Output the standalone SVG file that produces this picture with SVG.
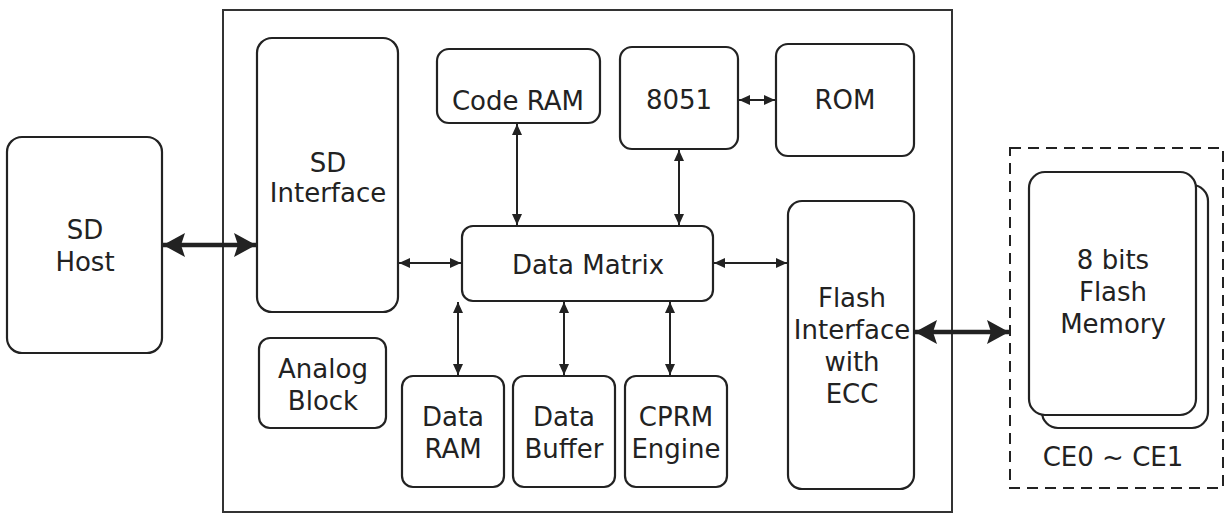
<svg xmlns="http://www.w3.org/2000/svg" width="1225" height="514" viewBox="0 0 1225 514">
<style>
.box{fill:#fff;stroke:#222;stroke-width:2.2}
.t{font-family:"DejaVu Sans",sans-serif;font-size:26px;fill:#222;text-anchor:middle;dominant-baseline:central}
.c{stroke:#222;stroke-width:2;fill:none;marker-start:url(#s);marker-end:url(#s)}
.ct{stroke:#222;stroke-width:4.5;fill:none;marker-start:url(#b);marker-end:url(#b)}
</style>
<defs>
<marker id="s" markerUnits="userSpaceOnUse" viewBox="0 0 11 10" refX="11" refY="5" markerWidth="11" markerHeight="10" orient="auto-start-reverse"><path d="M0,0 L11,5 L0,10 z" fill="#222"/></marker>
<marker id="b" markerUnits="userSpaceOnUse" viewBox="0 0 22 24" refX="22" refY="12" markerWidth="22" markerHeight="24" orient="auto-start-reverse"><path d="M0,0 L22,12 L0,24 L4,12 z" fill="#222"/></marker>
</defs>
<rect x="0" y="0" width="1225" height="514" fill="#fff"/>
<g id="chip"><rect x="223" y="10" width="729" height="502" fill="none" stroke="#333" stroke-width="2"/></g>
<g id="sd-host"><rect class="box" x="7" y="137" width="155" height="216" rx="15"/><text class="t" x="85" y="230">SD</text><text class="t" x="85" y="262">Host</text></g>
<g id="sd-interface"><rect class="box" x="257" y="38" width="141" height="274" rx="15"/><text class="t" x="328" y="163">SD</text><text class="t" x="328" y="193">Interface</text></g>
<g id="code-ram"><rect class="box" x="437" y="49" width="163" height="74" rx="12"/><text class="t" x="518" y="101">Code RAM</text></g>
<g id="cpu-8051"><rect class="box" x="620" y="47" width="118" height="102" rx="12"/><text class="t" x="679" y="100">8051</text></g>
<g id="rom"><rect class="box" x="776" y="44" width="138" height="112" rx="12"/><text class="t" x="845" y="100">ROM</text></g>
<g id="data-matrix"><rect class="box" x="462" y="226" width="251" height="75" rx="11"/><text class="t" x="588" y="265">Data Matrix</text></g>
<g id="analog-block"><rect class="box" x="259" y="338" width="127" height="90" rx="11"/><text class="t" x="323" y="369">Analog</text><text class="t" x="323" y="401">Block</text></g>
<g id="data-ram"><rect class="box" x="402" y="376" width="102" height="111" rx="11"/><text class="t" x="453" y="417">Data</text><text class="t" x="453" y="449">RAM</text></g>
<g id="data-buffer"><rect class="box" x="513" y="376" width="102" height="111" rx="11"/><text class="t" x="564" y="417">Data</text><text class="t" x="564" y="449">Buffer</text></g>
<g id="cprm-engine"><rect class="box" x="625" y="376" width="102" height="111" rx="11"/><text class="t" x="676" y="417">CPRM</text><text class="t" x="676" y="449">Engine</text></g>
<g id="flash-interface"><rect class="box" x="788" y="201" width="126" height="288" rx="14"/><text class="t" x="852" y="298">Flash</text><text class="t" x="852" y="330">Interface</text><text class="t" x="852" y="362">with</text><text class="t" x="852" y="394">ECC</text></g>
<g id="flash-memory"><rect x="1010" y="148" width="213" height="340" fill="none" stroke="#222" stroke-width="2" stroke-dasharray="11,7"/><rect class="box" x="1042" y="185" width="166" height="243" rx="16"/><rect class="box" x="1029" y="172" width="167" height="243" rx="16"/><text class="t" x="1113" y="260">8 bits</text><text class="t" x="1113" y="292">Flash</text><text class="t" x="1113" y="324">Memory</text><text class="t" x="1113" y="457">CE0 ~ CE1</text></g>
<g id="connectors">
<line class="ct" x1="163" y1="245" x2="256" y2="245"/>
<line class="ct" x1="915" y1="332" x2="1009" y2="332"/>
<line class="c" x1="399" y1="263" x2="461" y2="263"/>
<line class="c" x1="714" y1="263" x2="787" y2="263"/>
<line class="c" x1="739" y1="100" x2="775" y2="100"/>
<line class="c" x1="517" y1="124" x2="517" y2="225"/>
<line class="c" x1="679" y1="150" x2="679" y2="225"/>
<line class="c" x1="458" y1="302" x2="458" y2="375"/>
<line class="c" x1="564" y1="302" x2="564" y2="375"/>
<line class="c" x1="670" y1="302" x2="670" y2="375"/>
</g>
</svg>
